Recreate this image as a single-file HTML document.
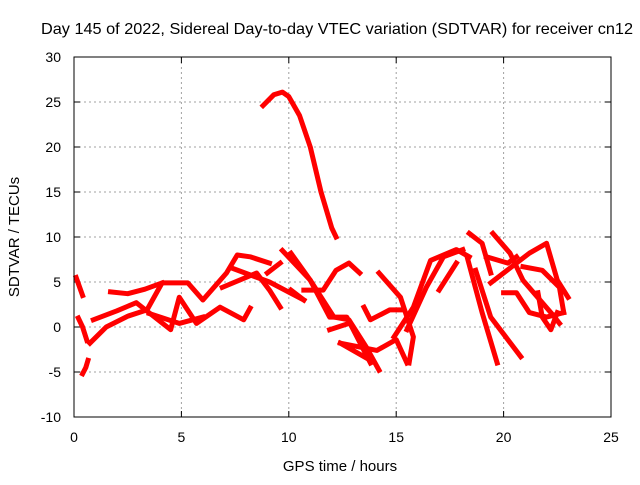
<!DOCTYPE html>
<html><head><meta charset="utf-8"><style>
html,body{margin:0;padding:0;background:#fff;}
svg text{font-family:"Liberation Sans",sans-serif;font-size:14px;fill:#000;}
</style></head><body>
<svg id="chart" width="640" height="480">
<text x="337" y="34" text-anchor="middle" style="font-size:16px" textLength="592" lengthAdjust="spacingAndGlyphs">Day 145 of 2022, Sidereal Day-to-day VTEC variation (SDTVAR) for receiver cn12</text>
<text x="340" y="471" text-anchor="middle" style="font-size:15px">GPS time / hours</text>
<text transform="translate(19,237) rotate(-90)" text-anchor="middle" style="font-size:15px">SDTVAR / TECUs</text>
<g id="grid"></g>
<g id="axes"></g>
<g id="series"></g>
<rect x="74" y="57" width="537" height="360" fill="none" stroke="#000" stroke-width="1"/>
</svg>
<script>
const xTicks=[0,5,10,15,20,25];
const yTicks=[-10,-5,0,5,10,15,20,25,30];
const trackX=[
[8.8,9.3,9.7,10.0,10.5,11.0,11.5,12.0,12.2],
[0.1,0.25,0.4],[0.2,0.4,0.6],[0.4,0.55,0.65],
[0.74,1.5,2.5,3.4,4.1,5.3,6.0,7.1,7.6,8.2,9.1],
[1.7,2.5,3.3,4.1],
[0.9,2.0,2.9,4.5,4.9,5.7,6.8,7.9,8.2],
[6.9,8.5,9.1,9.6],
[9.0,9.6],
[3.5,4.9,6.0],
[7.4,9.1,10.7],
[9.7,11.0,11.9,12.7,13.8],
[10.7,11.6,12.2,12.8,13.3],
[11.9,12.8],
[12.4,13.8],
[10.1,11.0,12.1,12.8,13.6,14.2],
[10.1,10.7],
[13.5,13.8,14.7,15.3],
[14.2,15.2,15.8,15.6],
[12.4,14.1,15.0,15.5],
[14.9,15.8,16.6,17.8,18.4],
[15.5,16.4,17.2,18.1],
[17.0,17.8],
[18.3,19.0,19.7],
[18.7,19.4,20.8],
[18.4,19.0,19.4],
[19.5,20.3,20.9,22.2,22.6],
[19.4,20.0,21.2,22.0,22.5,23.0],
[20.0,20.6,21.2,22.0,22.8],
[20.9,21.8,22.6,22.8],
[21.6,21.8,22.2,22.5],
[19.2,20.2,20.6]
];
const trackY=[
[24.6,25.8,26.1,25.6,23.5,20,15,11,10],
[5.5,4.5,3.5],[1,0,-1.5],[-5.2,-4.5,-3.7],
[-1.8,0,1.2,1.9,4.9,4.9,3,6,8,7.8,7.1],
[3.9,3.7,4.2,4.9],
[0.8,1.8,2.7,-0.3,3.3,0.4,2.2,0.8,2.1],
[4.4,6,4.1,2.2],
[6,7.1],
[1.5,0.4,1.1],
[6.5,5,3],
[8.5,5.2,1.1,1.1,-4],
[4.1,4.1,6.3,7.1,6],
[-0.3,0.4],
[-1.8,-3.7],
[8.2,5.2,1.1,0.8,-2.2,-4.8],
[4.1,3],
[2.2,0.8,1.9,1.9],
[6,3.3,-1.1,-4],
[-1.8,-2.6,-1.4,-4],
[-1.1,2.2,7.4,8.6,7.8],
[-0.3,4.4,7.8,8.6],
[4.1,7.1],
[7.8,1.6,-4],
[6.3,1.1,-3.3],
[10.4,9.3,6],
[10.4,8.2,5.2,1.6,0.4],
[4.9,6,8.2,9.3,5.2,3.3],
[3.8,3.8,1.6,1.1,1.6],
[6.7,6.3,4.4,1.6],
[3.8,1.1,-0.3,1.6],
[7.8,7.1,7.8]
];
const L=74,R=611,T=57,B=417;
const sx=v=>L+(v-0)/25*(R-L);
const sy=v=>B-(v+10)/40*(B-T);
const ns="http://www.w3.org/2000/svg";
const grid=document.getElementById('grid'),axes=document.getElementById('axes'),ser=document.getElementById('series');
function mk(tag,attrs,parent){const e=document.createElementNS(ns,tag);for(const k in attrs)e.setAttribute(k,attrs[k]);parent.appendChild(e);return e;}
xTicks.forEach(v=>{
  const x=sx(v);
  if(v>0&&v<25){const g=mk('line',{x1:x,x2:x,y1:T,y2:B,stroke:'#a0a0a0','stroke-dasharray':'2,3'},grid);
  
  }
  mk('line',{x1:x,x2:x,y1:B,y2:B-6,stroke:'#000'},axes);
  mk('line',{x1:x,x2:x,y1:T,y2:T+6,stroke:'#000'},axes);
  const t=mk('text',{x:x,y:B+25,'text-anchor':'middle'},axes);t.textContent=v;
  
  
});
yTicks.forEach(v=>{
  const y=sy(v);
  if(v>-10&&v<30){const g=mk('line',{x1:L,x2:R,y1:y,y2:y,stroke:'#a0a0a0','stroke-dasharray':'2,3'},grid);
  
  }
  mk('line',{x1:L,x2:L+6,y1:y,y2:y,stroke:'#000'},axes);
  mk('line',{x1:R,x2:R-6,y1:y,y2:y,stroke:'#000'},axes);
  const t=mk('text',{x:L-13,y:y+5,'text-anchor':'end'},axes);t.textContent=v;
  
  
});
trackX.forEach((xs,i)=>{
  const pts=xs.map((x,j)=>sx(x)+','+sy(trackY[i][j])).join(' ');
  const p=mk('polyline',{points:pts,fill:'none',stroke:'#ff0000','stroke-width':5,'stroke-linejoin':'round','stroke-linecap':'square'},ser);
  
  
});
</script>
</body></html>
